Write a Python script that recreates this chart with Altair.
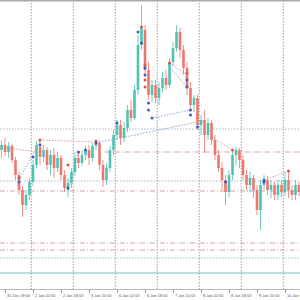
import altair as alt
import pandas as pd

# ---- candle data (H2 bars) ----
open_ = [1.1150, 1.1155, 1.1148, 1.1154, 1.1140, 1.1125, 1.1110, 1.1095, 1.1105, 1.1118,
         1.1135, 1.1153, 1.1143, 1.1150, 1.1135, 1.1145, 1.1132, 1.1142, 1.1125, 1.1110,
         1.1117, 1.1128, 1.1142, 1.1137, 1.1145, 1.1150, 1.1142, 1.1154, 1.1157, 1.1135,
         1.1120, 1.1132, 1.1150, 1.1165, 1.1175, 1.1162, 1.1172, 1.1190, 1.1182, 1.1210,
         1.1255, 1.1270, 1.1230, 1.1205, 1.1215, 1.1202, 1.1212, 1.1222, 1.1215, 1.1238,
         1.1252, 1.1268, 1.1250, 1.1232, 1.1212, 1.1195, 1.1202, 1.1175, 1.1180, 1.1165,
         1.1177, 1.1160, 1.1145, 1.1132, 1.1120, 1.1108, 1.1125, 1.1145, 1.1150, 1.1140,
         1.1125, 1.1115, 1.1122, 1.1110, 1.1090, 1.1115, 1.1120, 1.1110, 1.1115, 1.1105,
         1.1115, 1.1108, 1.1120, 1.1110, 1.1105, 1.1115]
high = [1.1160, 1.1162, 1.1158, 1.1156, 1.1143, 1.1128, 1.1114, 1.1110, 1.1122, 1.1140,
        1.1159, 1.1158, 1.1155, 1.1153, 1.1150, 1.1152, 1.1148, 1.1145, 1.1130, 1.1122,
        1.1132, 1.1148, 1.1148, 1.1150, 1.1154, 1.1155, 1.1157, 1.1160, 1.1160, 1.1140,
        1.1137, 1.1154, 1.1170, 1.1180, 1.1180, 1.1178, 1.1195, 1.1200, 1.1215, 1.1265,
        1.1295, 1.1275, 1.1238, 1.1220, 1.1220, 1.1218, 1.1228, 1.1230, 1.1242, 1.1258,
        1.1275, 1.1272, 1.1255, 1.1238, 1.1218, 1.1205, 1.1205, 1.1185, 1.1190, 1.1182,
        1.1180, 1.1165, 1.1150, 1.1138, 1.1125, 1.1130, 1.1150, 1.1153, 1.1152, 1.1145,
        1.1130, 1.1128, 1.1125, 1.1115, 1.1120, 1.1125, 1.1124, 1.1120, 1.1118, 1.1120,
        1.1120, 1.1128, 1.1130, 1.1115, 1.1120, 1.1118]
low = [1.1142, 1.1144, 1.1142, 1.1137, 1.1120, 1.1105, 1.1083, 1.1090, 1.1100, 1.1114,
       1.1132, 1.1135, 1.1138, 1.1130, 1.1125, 1.1122, 1.1128, 1.1120, 1.1108, 1.1103,
       1.1112, 1.1124, 1.1132, 1.1134, 1.1140, 1.1135, 1.1138, 1.1150, 1.1130, 1.1113,
       1.1115, 1.1128, 1.1145, 1.1160, 1.1155, 1.1158, 1.1168, 1.1178, 1.1180, 1.1205,
       1.1250, 1.1225, 1.1200, 1.1198, 1.1197, 1.1195, 1.1207, 1.1210, 1.1212, 1.1234,
       1.1248, 1.1242, 1.1225, 1.1205, 1.1190, 1.1188, 1.1170, 1.1165, 1.1147, 1.1160,
       1.1155, 1.1140, 1.1128, 1.1110, 1.1095, 1.1103, 1.1120, 1.1135, 1.1132, 1.1120,
       1.1110, 1.1108, 1.1102, 1.1085, 1.1070, 1.1110, 1.1105, 1.1102, 1.1100, 1.1100,
       1.1103, 1.1104, 1.1102, 1.1100, 1.1100, 1.1104]
close = [1.1155, 1.1148, 1.1154, 1.1140, 1.1125, 1.1110, 1.1095, 1.1105, 1.1118, 1.1135,
         1.1155, 1.1143, 1.1150, 1.1135, 1.1145, 1.1132, 1.1142, 1.1125, 1.1112, 1.1117,
         1.1128, 1.1142, 1.1137, 1.1145, 1.1150, 1.1142, 1.1154, 1.1157, 1.1135, 1.1120,
         1.1132, 1.1150, 1.1165, 1.1175, 1.1162, 1.1172, 1.1190, 1.1182, 1.1210, 1.1255,
         1.1272, 1.1230, 1.1205, 1.1215, 1.1202, 1.1212, 1.1222, 1.1215, 1.1238, 1.1252,
         1.1268, 1.1250, 1.1232, 1.1212, 1.1195, 1.1202, 1.1175, 1.1180, 1.1165, 1.1177,
         1.1160, 1.1145, 1.1132, 1.1120, 1.1108, 1.1125, 1.1145, 1.1150, 1.1140, 1.1125,
         1.1115, 1.1122, 1.1110, 1.1090, 1.1115, 1.1120, 1.1110, 1.1115, 1.1105, 1.1115,
         1.1108, 1.1120, 1.1110, 1.1105, 1.1115, 1.1108]

# ---- time axis labels ----
tick_idx = [1, 9, 17, 25, 33, 41, 49, 57, 65, 73, 81]
tick_labels = ["31 Dec 09:00", "2 Jan 02:00", "2 Jan 18:00", "3 Jan 10:00", "6 Jan 02:00",
               "6 Jan 18:00", "7 Jan 10:00", "8 Jan 02:00", "8 Jan 18:00", "9 Jan 10:00",
               "10 Jan 02:00"]
grid_idx = [8.5, 20.5, 32.5, 44.5, 56.5, 68.5, 80.5]

# ---- marker dots ----
red_i = [5, 11, 19, 27, 40, 41, 41, 41, 48, 53, 66, 82]
red_p = [1.1122, 1.1160, 1.1135, 1.1159, 1.1273, 1.1235, 1.1220, 1.1213, 1.1237, 1.1227, 1.1150, 1.1129]
blue_i = [5, 9, 11, 19, 22, 24, 27, 39, 40, 41, 41, 33, 42, 42, 43, 53, 53, 54, 54, 56, 64, 75, 75]
blue_p = [1.1118, 1.1143, 1.1155, 1.1112, 1.1148, 1.1150, 1.1157, 1.1268, 1.1257, 1.1232, 1.1225,
          1.1177, 1.1197, 1.1190, 1.1182, 1.1220, 1.1213, 1.1190, 1.1185, 1.1173, 1.1118, 1.1120, 1.1118]

# ---- dotted connector segments ----
pink_seg_i1 = [0, 11, 48, 60, 75]
pink_seg_p1 = [1.1153, 1.1160, 1.1237, 1.1163, 1.1120]
pink_seg_i2 = [10, 27, 53, 66, 82]
pink_seg_p2 = [1.1148, 1.1158, 1.1225, 1.1150, 1.1129]
blue_seg_i1 = [5, 19, 27, 43, 48]
blue_seg_p1 = [1.1120, 1.1112, 1.1157, 1.1182, 1.1233]
blue_seg_i2 = [11, 22, 56, 54, 53]
blue_seg_p2 = [1.1159, 1.1148, 1.1178, 1.1190, 1.1213]

# ---- horizontal levels ----
grid_levels = [1.1171, 1.1119]
pink_levels = [1.1148, 1.1109, 1.1057, 1.1050]
pink_starts = [29.5, -0.43, -0.43, -0.43]
teal_dot_level = [1.1042]
teal_solid_level = [1.1027]

X_MIN, X_MAX = -0.4286, 85.2857
Y_MIN, Y_MAX = 1.1011, 1.1300

df = pd.DataFrame(dict(i=list(range(len(open_))), o=open_, h=high, l=low, c=close))
df["dir"] = ["up" if c >= o else "down" for o, c in zip(open_, close)]

label_expr = ("[" + ",".join("'%s'" % t for t in tick_labels) + "][indexof(["
              + ",".join(str(t) for t in tick_idx) + "], datum.value)]")

x_scale = alt.Scale(domain=[X_MIN, X_MAX], nice=False, zero=False, padding=0)
y_scale = alt.Scale(domain=[Y_MIN, Y_MAX], nice=False, zero=False, padding=0)
x_axis = alt.Axis(values=tick_idx, labelExpr=label_expr, grid=False, title=None,
                  domainColor="#b8b8b8", tickColor="#8a8a8a", tickSize=3,
                  labelFontSize=3.9, labelFont="Liberation Sans", labelColor="#555555",
                  labelAlign="left", labelOffset=1.5, labelPadding=1.5, labelOverlap=False,
                  labelFlush=False)

def X(field):
    return alt.X(field, type="quantitative", scale=x_scale, axis=x_axis)

def Y(field):
    return alt.Y(field, type="quantitative", scale=y_scale, axis=None)

col = alt.Color("dir:N", scale=alt.Scale(domain=["up", "down"], range=["#4fc2b1", "#ee766c"]), legend=None)

layers = []

# vertical grid
vg = pd.DataFrame(dict(i=grid_idx))
layers.append(alt.Chart(vg).mark_rule(color="#9c9c9c", strokeDash=[1.5, 1.5], strokeWidth=1).encode(
    x=X("i"), y=alt.value(0), y2=alt.value(289)))

# horizontal grid
hg = pd.DataFrame(dict(p=grid_levels, i=[X_MIN] * 2, i2=[X_MAX] * 2))
layers.append(alt.Chart(hg).mark_rule(color="#a9b4c6", strokeDash=[1.5, 1.5], strokeWidth=1).encode(
    x=X("i"), x2="i2", y=Y("p")))

# pink dash-dot levels
pl = pd.DataFrame(dict(p=pink_levels, i=pink_starts, i2=[X_MAX] * len(pink_levels)))
layers.append(alt.Chart(pl).mark_rule(color="#d9a0a8", strokeDash=[5, 2, 1, 2], strokeWidth=1).encode(
    x=X("i"), x2="i2", y=Y("p")))

# teal levels
tl = pd.DataFrame(dict(p=teal_dot_level, i=[X_MIN], i2=[X_MAX]))
layers.append(alt.Chart(tl).mark_rule(color="#7fcfc4", strokeDash=[1.5, 1.5], strokeWidth=1).encode(
    x=X("i"), x2="i2", y=Y("p")))
ts = pd.DataFrame(dict(p=teal_solid_level, i=[X_MIN], i2=[X_MAX]))
layers.append(alt.Chart(ts).mark_rule(color="#6cc4b8", strokeWidth=1).encode(
    x=X("i"), x2="i2", y=Y("p")))

# dotted connectors
ps = pd.DataFrame(dict(i=pink_seg_i1, p=pink_seg_p1, i2=pink_seg_i2, p2=pink_seg_p2))
layers.append(alt.Chart(ps).mark_rule(color="#e59a9a", strokeDash=[1.5, 1.5], strokeWidth=1).encode(
    x=X("i"), x2="i2", y=Y("p"), y2="p2"))
bs = pd.DataFrame(dict(i=blue_seg_i1, p=blue_seg_p1, i2=blue_seg_i2, p2=blue_seg_p2))
layers.append(alt.Chart(bs).mark_rule(color="#8ea6d6", strokeDash=[1.5, 1.5], strokeWidth=1).encode(
    x=X("i"), x2="i2", y=Y("p"), y2="p2"))

# candles
layers.append(alt.Chart(df).mark_rule(strokeWidth=1, opacity=0.8).encode(
    x=X("i"), y=Y("l"), y2="h", color=col))
layers.append(alt.Chart(df).mark_bar(width=2.6).encode(
    x=X("i"), y=Y("o"), y2="c", color=col))

# marker dots
rd = pd.DataFrame(dict(i=red_i, p=red_p))
layers.append(alt.Chart(rd).mark_point(filled=True, size=9, color="#e0524a", opacity=1).encode(
    x=X("i"), y=Y("p")))
bd = pd.DataFrame(dict(i=blue_i, p=blue_p))
layers.append(alt.Chart(bd).mark_point(filled=True, size=9, color="#3b5fc0", opacity=1).encode(
    x=X("i"), y=Y("p")))

# top border
layers.append(alt.Chart(pd.DataFrame(dict(i=[X_MIN], i2=[X_MAX]))).mark_rule(color="#ababab", strokeWidth=2).encode(
    x=X("i"), x2="i2", y=alt.value(0.5)))

chart = alt.layer(*layers).properties(
    width=300, height=289,
    padding={"left": 0, "top": 0, "right": 0, "bottom": 11},
    autosize=alt.AutoSizeParams(type="none"),
    background="white"
).configure_view(stroke=None)

chart.save("out.html", embed_options={"renderer": "svg", "actions": False})
